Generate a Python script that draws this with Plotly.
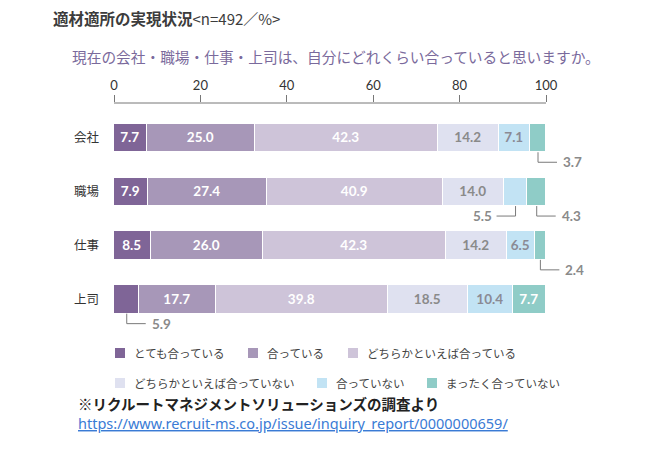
import plotly.graph_objects as go

# ---------------- data ----------------
categories = ["会社", "職場", "仕事", "上司"]
series_names = ["とても合っている", "合っている", "どちらかといえば合っている",
                "どちらかといえば合っていない", "合っていない", "まったく合っていない"]
very_fit = [7.7, 7.9, 8.5, 5.9]
fit = [25.0, 27.4, 26.0, 17.7]
somewhat_fit = [42.3, 40.9, 42.3, 39.8]
somewhat_not = [14.2, 14.0, 14.2, 18.5]
not_fit = [7.1, 5.5, 6.5, 10.4]
not_at_all = [3.7, 4.3, 2.4, 7.7]
series_values = [very_fit, fit, somewhat_fit, somewhat_not, not_fit, not_at_all]
x_ticks = [0, 20, 40, 60, 80, 100]
# values shown outside the bar with a leader line: (category index, series index, side)
callouts = [(0, 5, "right"), (1, 4, "left"), (1, 5, "right"), (2, 5, "right"), (3, 0, "right")]

# ---------------- style ----------------
colors = ["#7f6597", "#a797b8", "#cec4d9", "#dfe1f0", "#c2e3f4", "#8fccc7"]
text_colors = ["white", "white", "white", "#8a8a8a", "#8a8a94", "white"]
OFF = 8                      # page body margin
W, H = 650 - OFF, 453 - OFF
PLOT_L, PLOT_R, PLOT_T, PLOT_B = 114, 640, 103, 330   # in window pixels
L = PLOT_L - OFF
R = W - (PLOT_R - OFF)
T = PLOT_T - OFF
B = H - (PLOT_B - OFF)
PX_PER_UNIT = 4.32
plot_w = PLOT_R - PLOT_L
plot_h = PLOT_B - PLOT_T
x_max = plot_w / PX_PER_UNIT
row_px = 53.8
first_center = 138
y_top = -(first_center - PLOT_T) / row_px
y_bot = y_top + plot_h / row_px
bar_w = 28.5 / row_px

def px2paper_x(px):
    return (px - PLOT_L) / plot_w

def py2paper_y(py):
    return (PLOT_B - py) / plot_h

CJK = "Noto Sans CJK JP"
NUM = "Lato, Noto Sans CJK JP"

yvals = list(range(len(categories)))
called = {(c, s) for c, s, _ in callouts}

fig = go.Figure()
for si, (name, vals) in enumerate(zip(series_names, series_values)):
    texts = ["" if (ci, si) in called else f"{v:.1f}" for ci, v in enumerate(vals)]
    fig.add_trace(go.Bar(
        y=yvals, x=vals, name=name, orientation="h", width=bar_w,
        marker=dict(color=colors[si], line=dict(color="white", width=1.5)),
        text=texts, textposition="inside", insidetextanchor="middle",
        textfont=dict(family=NUM, size=13.5, color=text_colors[si], weight="bold"),
        textangle=0, showlegend=False, hoverinfo="x+name",
    ))

# leader lines for small values
drop = 10 / row_px
hlen = 19 / PX_PER_UNIT
for ci, si, side in callouts:
    start = sum(series_values[k][ci] for k in range(si))
    val = series_values[si][ci]
    xc = start + val / 2
    y0 = yvals[ci] + bar_w / 2
    y1 = y0 + drop
    x_end = xc + hlen if side == "right" else xc - hlen
    fig.add_shape(type="path", xref="x", yref="y",
                  path=f"M {xc},{y0} L {xc},{y1} L {x_end},{y1}",
                  line=dict(color="#7a7a7a", width=1))
    fig.add_annotation(x=x_end, y=y1, xref="x", yref="y", text=f"{val:.1f}",
                       showarrow=False, xanchor="left" if side == "right" else "right",
                       xshift=4 if side == "right" else -3,
                       font=dict(family=NUM, size=13.5, color="#8a8a8a", weight="bold"))

# axis line (0–100 only)
fig.add_shape(type="line", xref="x", yref="paper", x0=0, x1=100, y0=1, y1=1,
              line=dict(color="#777777", width=1))

# manual legend
legend_rows = [[(115, 0), (248, 1), (348, 2)], [(115, 3), (317, 4), (427, 5)]]
legend_y = [353, 383]
for row, cy in zip(legend_rows, legend_y):
    for px, si in row:
        fig.add_shape(type="rect", xref="paper", yref="paper",
                      x0=px2paper_x(px), x1=px2paper_x(px + 10),
                      y0=py2paper_y(cy + 5), y1=py2paper_y(cy - 5),
                      fillcolor=colors[si], line=dict(width=0))
        fig.add_annotation(xref="paper", yref="paper", x=px2paper_x(px + 17),
                           y=py2paper_y(cy), text=series_names[si], showarrow=False,
                           xanchor="left", yanchor="middle",
                           font=dict(family=CJK, size=11.5, color="#444444"))

# titles and footer
fig.add_annotation(xref="paper", yref="paper", x=px2paper_x(51), y=py2paper_y(18),
                   text="<b>適材適所の実現状況</b><span style='font-size:15px'>&lt;n=492／%&gt;</span>",
                   showarrow=False, xanchor="left", yanchor="middle",
                   font=dict(family=CJK, size=15.5, color="#3c3c3c"))
fig.add_annotation(xref="paper", yref="paper", x=px2paper_x(70), y=py2paper_y(57),
                   text="現在の会社・職場・仕事・上司は、自分にどれくらい合っていると思いますか。",
                   showarrow=False, xanchor="left", yanchor="middle",
                   font=dict(family=CJK, size=14.7, color="#7a6a9c"))
fig.add_annotation(xref="paper", yref="paper", x=px2paper_x(76), y=py2paper_y(404),
                   text="<b>※リクルートマネジメントソリューションズの調査より</b>",
                   showarrow=False, xanchor="left", yanchor="middle",
                   font=dict(family=CJK, size=14.5, color="#222222"))
fig.add_annotation(xref="paper", yref="paper", x=px2paper_x(76), y=py2paper_y(423),
                   text="<u>https://www.recruit-ms.co.jp/issue/inquiry_report/0000000659/</u>",
                   showarrow=False, xanchor="left", yanchor="middle",
                   font=dict(family="Noto Sans", size=14.5, color="#3a7bd5"))

fig.update_layout(
    width=W, height=H, barmode="stack", bargap=0,
    margin=dict(l=L, r=R, t=T, b=B, pad=0),
    paper_bgcolor="white", plot_bgcolor="white",
    xaxis=dict(range=[0, x_max], side="top", tickvals=x_ticks, ticks="outside",
               ticklen=7, tickcolor="#777777", showline=False, showgrid=False,
               zeroline=False, tickfont=dict(family=NUM, size=13, color="#333333"),
               fixedrange=True),
    yaxis=dict(range=[y_bot, y_top], tickvals=yvals, ticktext=categories,
               showgrid=False, zeroline=False, showline=False, ticks="",
               ticklabelstandoff=14,
               tickfont=dict(family=CJK, size=12.5, color="#333333"),
               fixedrange=True),
    showlegend=False,
)

fig.write_html("out.html")
